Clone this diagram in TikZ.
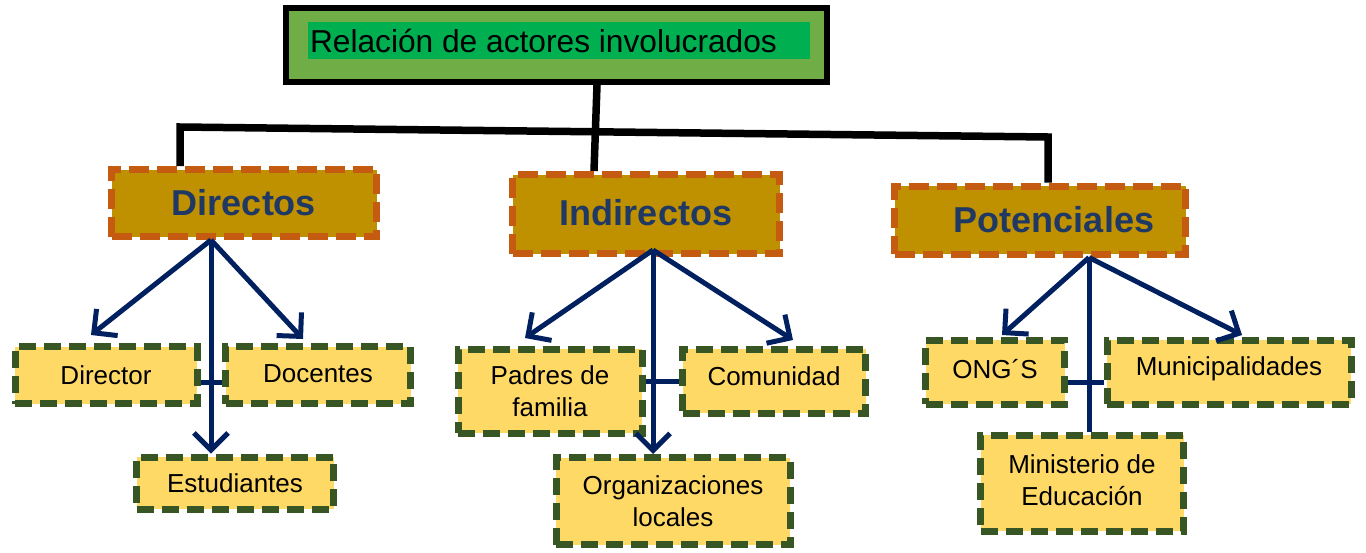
\documentclass[tikz,border=0pt]{standalone}
\usepackage{fontspec}
\setmainfont{Liberation Sans}
\usetikzlibrary{arrows.meta,calc}
\definecolor{titleOuter}{HTML}{70AD47}
\definecolor{titleInner}{HTML}{00B050}
\definecolor{catFill}{HTML}{BF9000}
\definecolor{catBorder}{HTML}{C55A11}
\definecolor{catText}{HTML}{1F3864}
\definecolor{leafFill}{HTML}{FFD966}
\definecolor{leafBorder}{HTML}{375623}
\definecolor{navy}{HTML}{002060}
\tikzset{
  trunk/.style={line width=7.5pt, draw=black},
  catbox/.style={draw=catBorder, fill=catFill, line width=7pt, dash pattern=on 20pt off 8pt,
    text=catText, font=\fontsize{36}{40}\selectfont\bfseries, inner sep=0pt},
  leaf/.style={draw=leafBorder, fill=leafFill, line width=7pt, dash pattern=on 17pt off 8pt,
    font=\fontsize{26}{32}\selectfont, align=center, inner sep=0pt},
  arr/.style={line width=5pt, draw=navy, -{Straight Barb[length=17pt,width=34pt]}},
  link/.style={line width=5pt, draw=navy},
}
\newcommand{\twolines}[2]{\begin{tabular}{@{}c@{}}#1\\#2\end{tabular}}
\begin{document}
\begin{tikzpicture}[x=1pt,y=-1pt]
\useasboundingbox (0,0) rectangle (1366,552);
% title
\node[draw=black, line width=6pt, fill=titleOuter, minimum width=541pt, minimum height=74pt, inner sep=0pt] (Title) at (556.5,45) {};
\node[fill=titleInner, minimum height=37pt, text width=498pt, inner xsep=2pt, inner ysep=0pt, align=flush left,
  font=\fontsize{31.7}{36}\selectfont] (TitleIn) at (559,40.5) {Relación de actores involucrados};
% categories
\node[catbox, minimum width=265pt, minimum height=67pt] (Directos) at (244,203) {Directos};
\node[catbox, minimum width=267pt, minimum height=79pt] (Indirectos) at (646,214) {\raisebox{3pt}{Indirectos}};
\node[catbox, minimum width=291pt, minimum height=68pt] (Potenciales) at (1040,220) {\hspace*{28pt}Potenciales};
% trunk
\coordinate (jL) at (180,127);
\coordinate (jR) at (1048,137);
\coordinate (tM) at (597,85);
\coordinate (iM) at (594,172);
\draw[trunk] (Directos.north -| jL) -- (jL) -- (jR) -- (Potenciales.north -| jR);
\draw[trunk] (Title.south -| tM) -- (Indirectos.north -| iM);
% leaves
\node[leaf, minimum width=182pt, minimum height=57pt] (Director) at (106,375) {Director};
\node[leaf, minimum width=185pt, minimum height=57pt] (Docentes) at (318,375) {\raisebox{2pt}{Docentes}};
\node[leaf, minimum width=197pt, minimum height=52pt] (Estudiantes) at (235,483) {Estudiantes};
\node[leaf, minimum width=184pt, minimum height=84pt] (Padres) at (550,391) {Padres de\\familia};
\node[leaf, minimum width=183pt, minimum height=64pt] (Comunidad) at (774,381) {\raisebox{9pt}{Comunidad}};
\node[leaf, minimum width=234pt, minimum height=87pt] (Organizaciones) at (673,501) {Organizaciones\\locales};
\node[leaf, minimum width=139pt, minimum height=64pt] (ONG) at (995,372) {\raisebox{6pt}{ONG´S}};
\node[leaf, minimum width=244pt, minimum height=64pt] (Muni) at (1229,372) {\raisebox{11pt}{Municipalidades}};
\node[leaf, minimum width=203pt, minimum height=96pt] (Ministerio) at (1082,483) {\raisebox{5pt}{\twolines{Ministerio de}{Educación}}};
% arrow tips
\coordinate (tDirector) at (91,335);
\coordinate (tDocentes) at (303,339);
\coordinate (xEst) at (211,452);
\coordinate (tPadres) at (525,338);
\coordinate (tComunidad) at (793,340);
\coordinate (xOrg) at (653,452);
\coordinate (tONG) at (1002,335);
\coordinate (tMuni) at (1242,335);
\coordinate (xMin) at (1089,432);
% Directos
\draw[arr] (Directos.south -| xEst) -- (tDirector);
\draw[arr] (Directos.south -| xEst) -- (tDocentes);
\draw[arr] (Directos.south -| xEst) -- (Estudiantes.north -| xEst);
\draw[link] ([yshift=-7pt]Director.east) -- ([yshift=-7pt]Docentes.west);
% Indirectos
\draw[arr] ([yshift=7pt]Indirectos.south -| xOrg) -- (tPadres);
\draw[arr] ([yshift=7pt]Indirectos.south -| xOrg) -- (tComunidad);
\draw[arr] ([yshift=7pt]Indirectos.south -| xOrg) -- (Organizaciones.north -| xOrg);
\draw[link] (Padres.east |- Comunidad.west) -- (Comunidad.west);
% Potenciales
\draw[arr] (Potenciales.south -| xMin) -- (tONG);
\draw[arr] (Potenciales.south -| xMin) -- (tMuni);
\draw[link] (Potenciales.south -| xMin) -- (Ministerio.north -| xMin);
\draw[link] ([yshift=-10pt]ONG.east) -- ([yshift=-10pt]Muni.west);
\end{tikzpicture}
\end{document}
